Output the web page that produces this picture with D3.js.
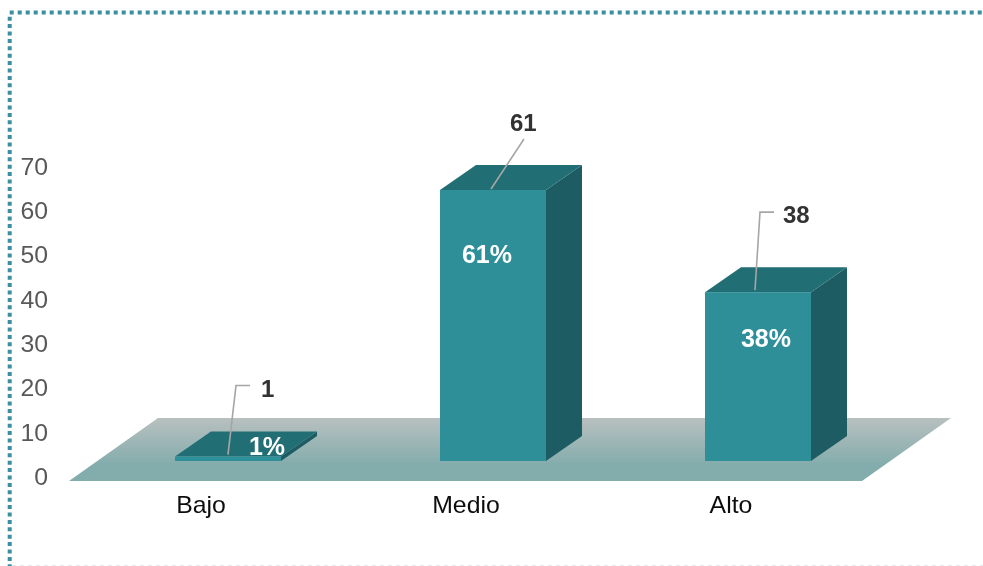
<!DOCTYPE html>
<html>
<head>
    <meta charset="utf-8">
    <title>Bajo Medio Alto</title>
    <script src="https://cdn.jsdelivr.net/npm/d3@7"></script>
    <style>
        html, body { margin: 0; padding: 0; background: #fff; overflow: hidden; }
        text { font-family: "Liberation Sans", Arial, sans-serif; }
    </style>
</head>
<body>
<div id="chart"></div>
<script>
    const categories = ["Bajo", "Medio", "Alto"];
    const values = [1, 61, 38];
    const percentLabels = ["1%", "61%", "38%"];
    const yTicks = [0, 10, 20, 30, 40, 50, 60, 70];

    const width = 983, height = 566;
    const baseY = 461;            // front foot of the bars
    const axisDrop = 16;          // tick labels sit lower than the bars' zero
    const depthX = 36, depthY = 25;
    const stretch = 1.08;         // the source picture is a bit wider than tall

    // label leaders, relative to the top of each bar front
    const leaders = [
        [[53, -2], [61, -71], [75, -71]],
        [[51, -1], [84, -51]],
        [[50, -2], [55, -80], [69, -80]]
    ];
    const labelOffset = [[86, -60], [70, -59], [78, -69]];
    const percentOffset = [[92, -2], [47, 73], [61, 55]];

    const svg = d3.select("#chart").append("svg")
        .attr("width", width)
        .attr("height", height);

    const x = d3.scaleBand()
        .domain(categories)
        .range([95.5, 890.5])
        .paddingInner(0.6)
        .paddingOuter(0.3);

    const y = d3.scaleLinear()
        .domain([0, 70])
        .range([baseY, baseY - 311]);

    const defs = svg.append("defs");
    const floorGrad = defs.append("linearGradient")
        .attr("id", "floor")
        .attr("x1", 0).attr("y1", 0).attr("x2", 0).attr("y2", 1);
    floorGrad.append("stop").attr("offset", "0%").attr("stop-color", "#b8c0bf");
    floorGrad.append("stop").attr("offset", "75%").attr("stop-color", "#83acac");
    floorGrad.append("stop").attr("offset", "100%").attr("stop-color", "#83acac");

    defs.append("filter").attr("id", "soft")
        .append("feGaussianBlur").attr("stdDeviation", 0.45);

    // dotted frame
    const frame = svg.append("g")
        .attr("fill", "none")
        .attr("stroke", "#3a8fa0")
        .attr("stroke-width", 4)
        .attr("filter", "url(#soft)");
    frame.append("line")
        .attr("x1", 9.7).attr("y1", 12.5).attr("x2", width).attr("y2", 12.5)
        .attr("stroke-dasharray", "4 4");
    frame.append("line")
        .attr("x1", 9.7).attr("y1", 16.7).attr("x2", 9.7).attr("y2", height)
        .attr("stroke-dasharray", "4 3.4");
    svg.append("line")
        .attr("x1", 12).attr("y1", 565.5).attr("x2", width).attr("y2", 565.5)
        .attr("stroke", "#e4eced")
        .attr("stroke-dasharray", "4 4");

    // floor
    svg.append("path")
        .attr("d", "M69,481 L862,481 L951,418 L158,418 Z")
        .attr("fill", "url(#floor)")
        .attr("filter", "url(#soft)");

    // y axis, labels only
    const axis = d3.axisLeft(y.copy().range([baseY + axisDrop, baseY + axisDrop - 310]))
        .tickValues(yTicks)
        .tickSize(0)
        .tickPadding(0);
    svg.append("g")
        .attr("transform", "translate(48,0)")
        .call(axis)
        .call(g => g.select(".domain").remove())
        .selectAll("text")
        .attr("transform", `scale(${stretch},1)`)
        .attr("font-size", 23)
        .attr("font-family", "'Liberation Sans', Arial, sans-serif")
        .attr("fill", "#595959")
        .attr("filter", "url(#soft)");

    // category labels
    svg.append("g")
        .selectAll("text")
        .data(categories)
        .join("text")
        .attr("transform", d => `translate(${x(d) + x.bandwidth() / 2 - 27},513) scale(${stretch},1)`)
        .attr("text-anchor", "middle")
        .attr("font-size", 23)
        .attr("fill", "#111")
        .attr("filter", "url(#soft)")
        .text(d => d);

    // bars
    const bars = svg.append("g")
        .selectAll("g")
        .data(values)
        .join("g")
        .attr("filter", "url(#soft)");

    bars.append("path")   // side
        .attr("fill", "#1f5c62")
        .attr("d", (d, i) => {
            const r = x(categories[i]) + x.bandwidth();
            return d3.line()([[r, y(d)], [r + depthX, y(d) - depthY], [r + depthX, baseY - depthY], [r, baseY]]);
        });

    bars.append("path")   // top
        .attr("fill", "#246e74")
        .attr("d", (d, i) => {
            const l = x(categories[i]), r = l + x.bandwidth();
            return d3.line()([[l, y(d)], [l + depthX, y(d) - depthY], [r + depthX, y(d) - depthY], [r, y(d)]]);
        });

    bars.append("rect")   // front
        .attr("fill", "#2e8f99")
        .attr("x", (d, i) => x(categories[i]))
        .attr("y", d => y(d))
        .attr("width", x.bandwidth())
        .attr("height", d => baseY - y(d));

    // leaders
    svg.append("g")
        .selectAll("path")
        .data(values)
        .join("path")
        .attr("fill", "none")
        .attr("stroke", "#a6a6a6")
        .attr("stroke-width", 1.6)
        .attr("d", (d, i) => d3.line()(leaders[i].map(p => [x(categories[i]) + p[0], y(d) + p[1]])));

    // value labels
    svg.append("g")
        .selectAll("text")
        .data(values)
        .join("text")
        .attr("x", (d, i) => x(categories[i]) + labelOffset[i][0])
        .attr("y", (d, i) => y(d) + labelOffset[i][1])
        .attr("font-size", 24)
        .attr("font-weight", "bold")
        .attr("fill", "#333")
        .attr("filter", "url(#soft)")
        .text(d => d);

    // percent labels
    svg.append("g")
        .selectAll("text")
        .data(percentLabels)
        .join("text")
        .attr("x", (d, i) => x(categories[i]) + percentOffset[i][0])
        .attr("y", (d, i) => y(values[i]) + percentOffset[i][1])
        .attr("text-anchor", "middle")
        .attr("font-size", 25)
        .attr("font-weight", "bold")
        .attr("fill", "#fff")
        .attr("filter", "url(#soft)")
        .text(d => d);
</script>
</body>
</html>
